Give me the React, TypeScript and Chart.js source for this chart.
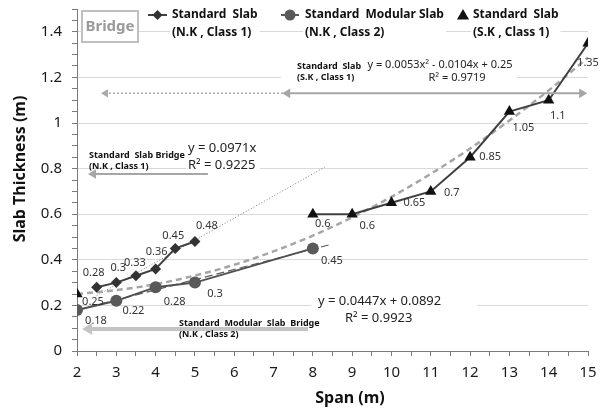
import React, { useEffect, useRef } from 'react';
import { Chart, registerables } from 'chart.js';

Chart.register(...registerables);

// ---------------- data ----------------
const slabNK1Span = [2.5, 3, 3.5, 4, 4.5, 5];
const slabNK1Thick = [0.28, 0.3, 0.33, 0.36, 0.45, 0.48];

const modularNK2Span = [2, 3, 4, 5, 8];
const modularNK2Thick = [0.18, 0.22, 0.28, 0.3, 0.45];

const slabSK1Span = [2, 8, 9, 10, 11, 12, 13, 14, 15];
const slabSK1Thick = [0.25, 0.6, 0.6, 0.65, 0.7, 0.85, 1.05, 1.1, 1.35];

// trendlines (values read from the displayed equations)
const quadTrendSpan = [2, 3, 4, 5, 6, 7, 8, 9, 10, 11, 12, 13, 14, 15];
const quadTrendThick = [0.25, 0.267, 0.293, 0.331, 0.378, 0.437, 0.506, 0.586, 0.676, 0.777, 0.888, 1.011, 1.143, 1.287];
const linNK1Span = [2.5, 8.3];
const linNK1Thick = [0.243, 0.806];
const linNK2Span = [2, 8.4];
const linNK2Thick = [0.179, 0.465];

// label placement offsets (px) for data labels
const slabNK1LabelOffset = [[-3, -14], [2, -15], [-1, -13], [1, -17], [-2, -13], [12, -16]];
const modularNK2LabelOffset = [[19, 11], [17, 10], [19, 15], [20, 11], [19, 12]];
const slabSK1LabelOffset = [[16, 8], [10, 10], [15, 12], [23, 0], [21, 1], [20, 0], [14, 16], [9, 16], [0, 20]];

const legendTitles = ['Standard  Slab', 'Standard  Modular Slab', 'Standard  Slab'];
const legendSubs = ['(N.K , Class 1)', '(N.K , Class 2)', '(S.K , Class 1)'];

const FF = '"Noto Sans", "DejaVu Sans", sans-serif';
const DARK = '#404040';

const pts = (xs: number[], ys: number[]) => xs.map((x, i) => ({ x, y: ys[i] }));

function drawDiamond(ctx: CanvasRenderingContext2D, x: number, y: number, r: number, c: string) {
  ctx.beginPath();
  ctx.moveTo(x, y - r);
  ctx.lineTo(x + r, y);
  ctx.lineTo(x, y + r);
  ctx.lineTo(x - r, y);
  ctx.closePath();
  ctx.fillStyle = c;
  ctx.fill();
}
function drawTri(ctx: CanvasRenderingContext2D, x: number, y: number, r: number, c: string) {
  ctx.beginPath();
  ctx.moveTo(x, y - r);
  ctx.lineTo(x + r * 0.866, y + r * 0.5);
  ctx.lineTo(x - r * 0.866, y + r * 0.5);
  ctx.closePath();
  ctx.fillStyle = c;
  ctx.fill();
}
function arrowHead(ctx: CanvasRenderingContext2D, x: number, y: number, dir: number, size: number, c: string) {
  ctx.beginPath();
  ctx.moveTo(x, y);
  ctx.lineTo(x - dir * size, y - size * 0.6);
  ctx.lineTo(x - dir * size, y + size * 0.6);
  ctx.closePath();
  ctx.fillStyle = c;
  ctx.fill();
}
function text(ctx: CanvasRenderingContext2D, s: string, x: number, y: number, font: string, color: string, align: CanvasTextAlign = 'left') {
  ctx.font = font;
  ctx.fillStyle = color;
  ctx.textAlign = align;
  ctx.textBaseline = 'middle';
  ctx.fillText(s, x, y);
}

const overlayPlugin = {
  id: 'overlay',
  afterDatasetsDraw(chart: any) {
    const ctx: CanvasRenderingContext2D = chart.ctx;
    const xs = chart.scales.x;
    const ys = chart.scales.y;
    const X = (v: number) => xs.getPixelForValue(v);
    const Y = (v: number) => ys.getPixelForValue(v);
    ctx.save();

    // ---- data labels ----
    const lblFont = `11px ${FF}`;
    const series = [
      { idx: 0, vals: slabNK1Thick, off: slabNK1LabelOffset },
      { idx: 1, vals: modularNK2Thick, off: modularNK2LabelOffset },
      { idx: 2, vals: slabSK1Thick, off: slabSK1LabelOffset },
    ];
    series.forEach((s) => {
      const meta = chart.getDatasetMeta(s.idx);
      meta.data.forEach((el: any, j: number) => {
        text(ctx, String(s.vals[j]), el.x + s.off[j][0], el.y + s.off[j][1], lblFont, '#333', 'center');
      });
    });

    // ---- top arrow (S.K class 1 range) ----
    const ya = Y(1.13);
    ctx.strokeStyle = '#aaaaaa';
    ctx.lineWidth = 1.5;
    ctx.setLineDash([2, 2]);
    ctx.beginPath();
    ctx.moveTo(X(7.24), ya);
    ctx.lineTo(X(2.68), ya);
    ctx.stroke();
    ctx.setLineDash([]);
    arrowHead(ctx, X(2.61), ya, -1, 7, '#aaaaaa');
    ctx.strokeStyle = '#a6a6a6';
    ctx.lineWidth = 2;
    ctx.beginPath();
    ctx.moveTo(X(7.3), ya);
    ctx.lineTo(X(14.9), ya);
    ctx.stroke();
    arrowHead(ctx, X(7.22), ya, -1, 8, '#a6a6a6');
    arrowHead(ctx, X(14.98), ya, 1, 8, '#a6a6a6');

    // ---- arrow N.K class 1 ----
    const yb = Y(0.776);
    ctx.strokeStyle = '#a6a6a6';
    ctx.lineWidth = 2;
    ctx.beginPath();
    ctx.moveTo(X(5.33), yb);
    ctx.lineTo(X(2.4), yb);
    ctx.stroke();
    arrowHead(ctx, X(2.28), yb, -1, 8, '#a6a6a6');

    // ---- arrow N.K class 2 ----
    const yc = Y(0.0965);
    ctx.strokeStyle = '#c4c4c4';
    ctx.lineWidth = 4;
    ctx.beginPath();
    ctx.moveTo(X(7.88), yc);
    ctx.lineTo(X(2.3), yc);
    ctx.stroke();
    arrowHead(ctx, X(2.13), yc, -1, 10, '#c4c4c4');

    // ---- white boxes behind annotation texts ----
    ctx.fillStyle = '#ffffff';
    ctx.fillRect(281, 57, 236, 29);
    ctx.fillRect(186, 139, 74, 34);
    ctx.fillRect(311, 291, 166, 35);

    // ---- annotations ----
    const small = `bold 9px ${FF}`;
    text(ctx, 'Standard  Slab', 297, 66, small, '#111');
    text(ctx, '(S.K , Class 1)', 297, 77, small, '#111');
    text(ctx, 'y = 0.0053x² - 0.0104x + 0.25', 440, 65, `11px ${FF}`, '#222', 'center');
    text(ctx, 'R² = 0.9719', 457, 78, `11px ${FF}`, '#222', 'center');

    text(ctx, 'Standard  Slab Bridge', 89, 155, small, '#111');
    text(ctx, '(N.K , Class 1)', 89, 166, small, '#111');
    text(ctx, 'y = 0.0971x', 188, 148, `13px ${FF}`, '#222');
    text(ctx, 'R² = 0.9225', 188, 165, `13px ${FF}`, '#222');

    text(ctx, 'y = 0.0447x + 0.0892', 318, 301, `13px ${FF}`, '#222');
    text(ctx, 'R² = 0.9923', 345, 318, `13px ${FF}`, '#222');
    text(ctx, 'Standard  Modular  Slab  Bridge', 179, 323, small, '#111');
    text(ctx, '(N.K , Class 2)', 179, 334, small, '#111');

    // ---- Bridge box ----
    ctx.fillStyle = '#ffffff';
    ctx.fillRect(82, 11, 56, 31);
    ctx.strokeStyle = '#bfbfbf';
    ctx.lineWidth = 2;
    ctx.strokeRect(82, 11, 56, 31);
    text(ctx, 'Bridge', 110, 26.5, `bold 15px ${FF}`, '#9a9a9a', 'center');

    // ---- legend ----
    const lf = `bold 12px ${FF}`;
    const lx = [172, 305, 473];
    ctx.font = lf;
    lx.forEach((x, i) => {
      const w = Math.max(ctx.measureText(legendTitles[i]).width, ctx.measureText(legendSubs[i]).width);
      ctx.fillStyle = '#ffffff';
      ctx.fillRect(x - 2, 5, w + 4, 36);
    });
    ctx.strokeStyle = DARK;
    ctx.lineWidth = 2;
    ctx.beginPath();
    ctx.moveTo(148, 15);
    ctx.lineTo(167, 15);
    ctx.stroke();
    drawDiamond(ctx, 157.5, 15, 5, '#333');
    ctx.strokeStyle = '#595959';
    ctx.beginPath();
    ctx.moveTo(281, 15);
    ctx.lineTo(299, 15);
    ctx.stroke();
    ctx.beginPath();
    ctx.arc(290, 15, 5.5, 0, Math.PI * 2);
    ctx.fillStyle = '#595959';
    ctx.fill();
    drawTri(ctx, 463, 16, 7, '#111');
    lx.forEach((x, i) => {
      text(ctx, legendTitles[i], x, 15, lf, '#111');
      text(ctx, legendSubs[i], x, 33, lf, '#111');
    });

    // ---- axis titles ----
    text(ctx, 'Span (m)', 350, 398, `bold 16px ${FF}`, '#111', 'center');
    ctx.save();
    ctx.translate(20, 169);
    ctx.rotate(-Math.PI / 2);
    text(ctx, 'Slab Thickness (m)', 0, 0, `bold 16px ${FF}`, '#111', 'center');
    ctx.restore();

    ctx.restore();
  },
};

export default function App() {
  const ref = useRef<HTMLCanvasElement>(null);
  useEffect(() => {
    document.body.style.margin = '0';
    const chart = new Chart(ref.current as HTMLCanvasElement, {
      type: 'line',
      data: {
        datasets: [
          {
            label: 'Standard Slab (N.K, Class 1)',
            data: pts(slabNK1Span, slabNK1Thick),
            borderColor: DARK,
            borderWidth: 2,
            backgroundColor: '#333',
            pointStyle: 'rectRot',
            pointRadius: 5.5,
            pointBorderWidth: 0,
          },
          {
            label: 'Standard Modular Slab (N.K, Class 2)',
            data: pts(modularNK2Span, modularNK2Thick),
            borderColor: '#505050',
            borderWidth: 2,
            backgroundColor: '#595959',
            pointStyle: 'circle',
            pointRadius: 6,
            pointBorderWidth: 0,
          },
          {
            label: 'Standard Slab (S.K, Class 1)',
            data: pts(slabSK1Span, slabSK1Thick),
            borderColor: DARK,
            borderWidth: 2,
            backgroundColor: '#111',
            pointStyle: 'triangle',
            pointRadius: 6.5,
            pointBorderWidth: 0,
            segment: {
              borderColor: (c: any) => (c.p0DataIndex === 0 ? 'rgba(0,0,0,0)' : DARK),
            },
          },
          {
            label: 'quad trend',
            data: pts(quadTrendSpan, quadTrendThick),
            borderColor: '#a6a6a6',
            borderWidth: 2.5,
            borderDash: [6, 4],
            pointRadius: 0,
            cubicInterpolationMode: 'monotone',
          },
          {
            label: 'lin trend NK1',
            data: pts(linNK1Span, linNK1Thick),
            borderColor: '#7a7a7a',
            borderWidth: 1,
            borderDash: [1, 2],
            pointRadius: 0,
          },
          {
            label: 'lin trend NK2',
            data: pts(linNK2Span, linNK2Thick),
            borderColor: '#5a5a5a',
            borderWidth: 1.2,
            borderDash: [8, 4],
            pointRadius: 0,
          },
        ] as any,
      },
      options: {
        animation: false,
        responsive: false,
        devicePixelRatio: 1,
        layout: { padding: { left: 0, right: 17, top: 9, bottom: 0 } },
        plugins: { legend: { display: false }, tooltip: { enabled: false } },
        scales: {
          x: {
            type: 'linear',
            min: 2,
            max: 15,
            afterFit: (s: any) => {
              s.height = 59;
              s.paddingLeft = 0;
              s.paddingRight = 0;
            },
            border: { color: '#7a7a7a', width: 1 },
            grid: { drawOnChartArea: false, tickColor: '#7a7a7a', tickLength: 5 },
            ticks: {
              stepSize: 0.5,
              autoSkip: false,
              maxRotation: 0,
              padding: 8,
              color: '#1a1a1a',
              font: { family: FF, size: 15 },
              callback: (v: any) => (Number.isInteger(v) ? String(v) : ''),
            },
          },
          y: {
            type: 'linear',
            min: 0,
            max: 1.5,
            afterFit: (s: any) => {
              s.width = 77;
              s.paddingTop = 0;
              s.paddingBottom = 0;
            },
            border: { color: '#7a7a7a', width: 1 },
            grid: {
              color: (c: any) => {
                const k = Math.round((c.tick ? c.tick.value : 0) * 100);
                return k > 0 && k <= 140 && k % 20 === 0 ? '#d9d9d9' : 'rgba(0,0,0,0)';
              },
              tickColor: '#7a7a7a',
              tickLength: 5,
            },
            ticks: {
              stepSize: 0.05,
              autoSkip: false,
              padding: 10,
              color: '#1a1a1a',
              font: { family: FF, size: 15 },
              callback: (v: any) => {
                const k = Math.round(v * 100);
                return k % 20 === 0 && k <= 140 ? String(k / 100) : '';
              },
            },
          },
        },
      },
      plugins: [overlayPlugin],
    } as any);
    return () => chart.destroy();
  }, []);
  return (
    <div style={{ width: 605, height: 410 }}>
      <canvas ref={ref} width={605} height={410} style={{ display: 'block' }} />
    </div>
  );
}
